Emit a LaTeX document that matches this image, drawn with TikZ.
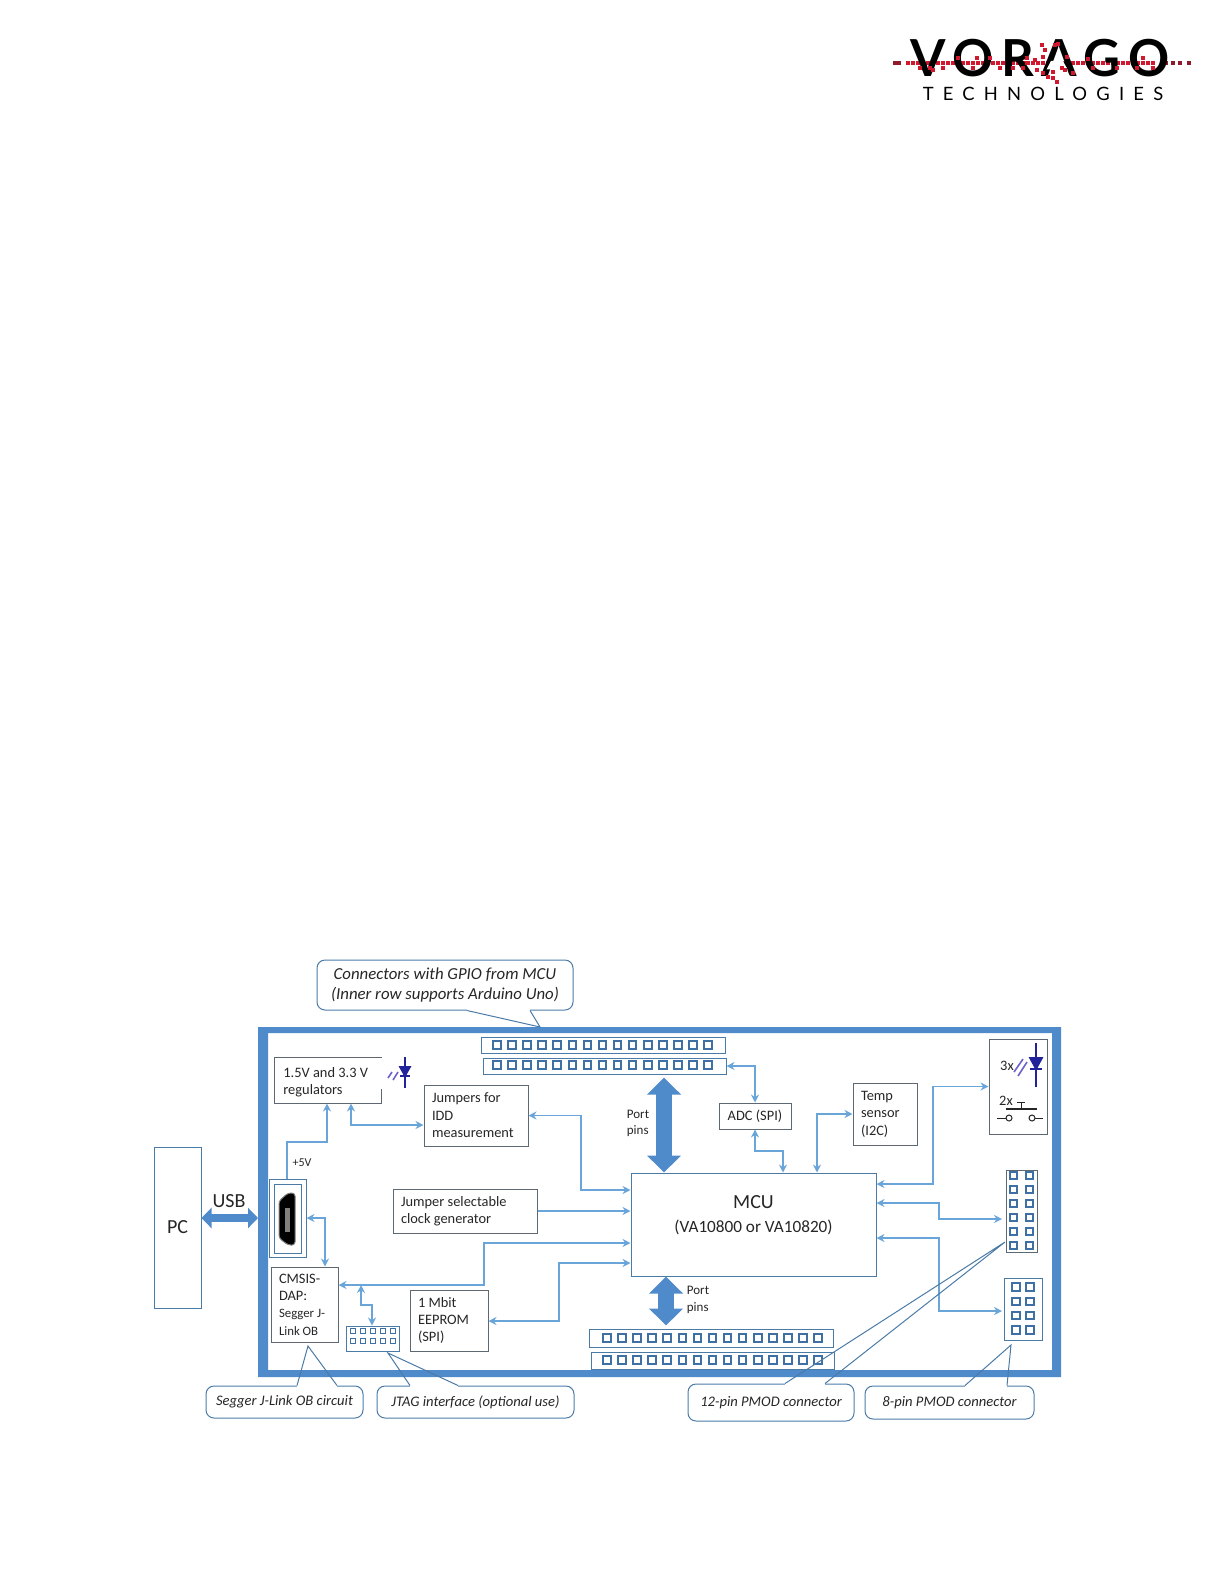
\documentclass[tikz,border=0pt]{standalone}
\usepackage{xcolor}
\usepackage{fontspec}
\usepackage{tikz}
\usetikzlibrary{arrows.meta}
\setmainfont{Carlito}
\newfontfamily\logofont[LetterSpace=15]{Lato}
\newfontfamily\logosubfont[LetterSpace=50]{Lato}
\definecolor{boardblue}{HTML}{4F8ACB}
\definecolor{wireblue}{HTML}{6AA5DA}
\definecolor{edgeblue}{HTML}{4A7BA7}
\definecolor{pinblue}{HTML}{3F70A3}
\definecolor{edgegray}{HTML}{5E6873}
\definecolor{textgray}{HTML}{262626}
\definecolor{ledblue}{HTML}{22229A}
\definecolor{rayblue}{HTML}{6A62C8}
\definecolor{logored}{HTML}{D0182F}
\definecolor{logodark}{HTML}{8E1B2B}
\tikzset{
  boxtext/.style={font=\fontsize{7.2}{8.7}\selectfont,text=textgray},
  blockbox/.style 2 args={boxtext,draw=edgegray,line width=0.5pt,align=flush left,inner xsep=4pt,inner ysep=0pt,text width=#1,minimum height=#2},
  blankbox/.style 2 args={draw=#1,line width=0.5pt,inner sep=0pt,minimum width=#2},
  calloutbox/.style={draw=edgeblue,line width=0.5pt,rounded corners=4pt,align=flush center,inner sep=0pt,font=\fontsize{7.3}{10}\selectfont\itshape,text=textgray},
  calloutline/.style={draw=edgeblue,line width=0.5pt},
  wire/.style={draw=wireblue,line width=0.7pt,{Stealth[length=4pt,width=4pt]}-{Stealth[length=4pt,width=4pt]}},
  wireto/.style={draw=wireblue,line width=0.7pt,-{Stealth[length=4pt,width=4pt]}},
  usbarrow/.style={draw=boardblue,line width=3.6pt,{Triangle[length=5pt,width=10pt]}-{Triangle[length=5pt,width=10pt]}},
  portarrow/.style={draw=boardblue,line width=8pt,{Triangle[length=8.5pt,width=16.5pt]}-{Triangle[length=8.5pt,width=16.5pt]}},
  pinbox/.style={draw=pinblue,line width=1pt},
  ledline/.style={draw=ledblue,line width=0.8pt},
  rayline/.style={draw=rayblue,line width=0.8pt},
  switchline/.style={draw=textgray,line width=0.5pt},
}
\begin{document}
\begin{tikzpicture}[x=0.5pt,y=-0.5pt]
\useasboundingbox (0,0) rectangle (1224,1584);
% logo
\foreach \a in {85,100,...,830} \fill[logored] ({880+\a/3-1.9},61.1) rectangle ++(3.8,3.8);
\foreach \a in {45,58,858,878,900,928} \fill[logodark] ({880+\a/3-1.9},61.1) rectangle ++(3.8,3.8);
\node[anchor=base,font=\logofont\bfseries\fontsize{25.5}{25.5}\selectfont] (vorago) at (1040,76) {VORAGO};
\fill[white] (1051,61) -- (1063,61) -- (1067.5,69.5) -- (1046.5,69.5) -- cycle;
\foreach \a/\b in {485/75,535/72,495/90,525/75,560/110,490/110,440/115,465/120,235/115,290/115,330/115,625/118,790/115,520/175,530/187,505/170,520/155,580/160,555/150,120/145,160/150,190/145,280/145,360/145,400/145,430/145,470/150,490/160,545/145,640/145,710/145,770/145,820/145,150/145,440/130}
  \fill[logored] ({880+\a/3-1.9},{20+\b/3-1.9}) rectangle ++(3.8,3.8);
\node[anchor=base,font=\logosubfont\fontsize{9.2}{9.2}\selectfont] (technologies) at (1043,100.5) {TECHNOLOGIES};
% board
\fill[boardblue,even odd rule] (258,1027) rectangle (1061,1377) (268,1033) rectangle (1052,1370);
% pc and usb
\node[draw=edgeblue,line width=0.5pt,minimum width=23.5pt,minimum height=80.5pt,inner sep=0pt,font=\fontsize{10}{12}\selectfont,text=textgray] (pc) at (177.5,1227.5) {PC};
\node[font=\fontsize{10}{12}\selectfont,text=textgray,inner sep=0pt] (usblabel) at (229,1201) {USB};
\node[blankbox={edgeblue}{18.5pt},minimum height=39pt] (usbsocket) at (287.5,1218) {};
\node[blankbox={edgeblue}{13.5pt},minimum height=34.5pt] (usbinner) at (287.5,1218.5) {};
\filldraw[fill=black,draw=gray,line width=0.5pt,rounded corners=1.5pt] (279,1201) -- (288,1193) -- (295,1193) -- (295,1245) -- (288,1245) -- (279,1238) -- cycle;
\fill[gray] (285,1208) rectangle (290,1232);
\draw[usbarrow] (pc.east |- 201,1218) -- (258,1218);
% blocks
\node[blockbox={45pt}{22.5pt},draw=none] (regs) at (328,1080.5) {};
\node[boxtext,align=flush left,inner sep=0pt,anchor=west] (regslabel) at (283,1082.5) {1.5V and 3.3 V\\regulators};
\draw[draw=edgegray,line width=0.5pt] (regs.east |- 274,1089) -- (regs.south east) -- (regs.south west) -- (regs.north west) -- (regs.north east);
\node[blockbox={44pt}{30.5pt}] (jumpers) at (476,1115.5) {Jumpers for\\IDD\\measurement};
\node[blockbox={64pt}{22pt}] (clockgen) at (465,1211) {Jumper selectable\\clock generator};
\node[draw=edgeblue,line width=0.5pt,minimum width=122.5pt,minimum height=51.5pt,inner sep=0pt] (mcu) at (753.5,1224.5) {};
\node[align=flush center,inner sep=0pt,text=textgray] (mculabel) at (753.5,1215) {{\fontsize{10}{11}\selectfont MCU}\\{\fontsize{8.6}{10}\selectfont (VA10800 or VA10820)}};
\node[blockbox={25.5pt}{37.5pt}] (cmsis) at (304.5,1304.5) {CMSIS-\\DAP:\\{\fontsize{6.4}{8.5}\selectfont Segger J-}\\{\fontsize{6.4}{8.5}\selectfont Link OB}};
\node[blockbox={31pt}{30.5pt}] (eeprom) at (449,1320.5) {1 Mbit\\EEPROM\\(SPI)};
\node[blockbox={34pt}{13pt},align=flush center,inner xsep=1pt] (adc) at (755,1116) {ADC (SPI)};
\node[blockbox={24pt}{31pt}] (tempsensor) at (885,1114) {Temp\\sensor\\(I2C)};
\node[blankbox={edgegray}{29pt},minimum height=47.5pt] (ledswitch) at (1018,1086.5) {};
% connectors
\node[blankbox={edgeblue}{122pt},minimum height=8pt] (rowa) at (603,1045) {};
\node[blankbox={edgeblue}{121.5pt},minimum height=8pt] (rowb) at (604.5,1066) {};
\node[blankbox={edgeblue}{122pt},minimum height=9pt] (rowc) at (711,1338) {};
\node[blankbox={edgeblue}{121.5pt},minimum height=8.5pt] (rowd) at (712.5,1360.5) {};
\node[blankbox={edgegray}{15.5pt},minimum height=41pt] (pmodtwelve) at (1021.5,1211) {};
\node[blankbox={edgeblue}{19pt},minimum height=31pt] (pmodeight) at (1023,1309) {};
\node[blankbox={edgeblue}{26.5pt},minimum height=12.5pt] (jtagpins) at (372.5,1338.5) {};
\foreach \px/\py in {497/1045,497/1065,607/1338,607/1360}
  \foreach \i in {0,...,14}
    \draw[pinbox] ({\px+15.07*\i-3.8},{\py-3.8}) rectangle ++(7.6,7.6);
\foreach \py in {1175,1189,...,1245}
  \foreach \px in {1013,1029}
    \draw[pinbox] ({\px-3.5},{\py-3.5}) rectangle ++(7,7);
\foreach \py in {1287,1301.3,1315.6,1330}
  \foreach \px in {1016,1030}
    \draw[pinbox] ({\px-3.7},{\py-3.7}) rectangle ++(7.4,7.4);
\foreach \px in {353,363,373,383,393}
  \foreach \py in {1331,1341}
    \draw[pinbox,line width=0.8pt] ({\px-2.6},{\py-2.6}) rectangle ++(5.2,5.2);
% led and switch marks
\draw[ledline] (405,1057) -- (405,1088);
\filldraw[ledline,fill=ledblue] (400,1067) -- (410,1067) -- (405,1076) -- cycle;
\draw[ledline] (400,1076) -- (410,1076);
\draw[rayline] (388,1078) -- (392,1072);
\draw[rayline] (393,1080) -- (398,1072);
\draw[ledline] (1036,1043) -- (1036,1087);
\filldraw[ledline,fill=ledblue] (1030,1058) -- (1042,1058) -- (1036,1069) -- cycle;
\draw[ledline] (1030,1069) -- (1042,1069);
\draw[rayline] (1014,1072) -- (1023,1059);
\draw[rayline] (1018,1076) -- (1027,1062);
\node[boxtext,inner sep=0pt] (ledcount) at (1007,1066) {3x};
\node[boxtext,inner sep=0pt] (switchcount) at (1006,1101) {2x};
\draw[switchline,line width=0.8pt] (1006,1109) -- (1037,1109);
\draw[switchline] (1021,1109) -- (1021,1102);
\draw[switchline] (1017,1102) -- (1025,1102);
\draw[switchline] (997,1118) -- (1006,1118);
\draw[switchline] (1009,1118) circle (3);
\draw[switchline] (1032,1118) circle (3);
\draw[switchline] (1035,1118) -- (1043,1118);
% wires
\node[boxtext,inner sep=0pt,font=\fontsize{6}{7}\selectfont] (fivev) at (302,1163) {+5V};
\draw[wireto] (usbsocket.north -| 287,1179) |- (327,1142) -- (regs.south -| 327,1142);
\draw[wire] (regs.south -| 351,1104) |- (jumpers.west |- 351,1125);
\draw[wire] (jumpers.east) -| (581,1190) -- (mcu.west |- 581,1190);
\draw[wireto] (clockgen.east) -- (mcu.west |- clockgen.east);
\draw[wire] (cmsis.east |- 338,1285) -- (484,1285) |- (mcu.west |- 484,1243);
\coordinate (jtagtap) at (361,1285);
\draw[wire] (jtagtap) |- (372,1305) -- (jtagpins.north -| 372,1305);
\draw[wire] (eeprom.east |- 488,1321) -- (559,1321) |- (mcu.west |- 559,1263);
\draw[wire] (usbsocket.east |- 306,1218) -| (cmsis.north -| 325,1267);
\draw[wire] (rowb.east) -| (adc.north);
\draw[wire] (adc.south) |- (783,1151) -- (mcu.north -| 783,1151);
\draw[wire] (mcu.north -| 817,1100) |- (tempsensor.west);
\draw[wire] (mcu.east |- 876,1184) -| (933,1086.5) -- (ledswitch.west);
\draw[wire] (mcu.east |- 876,1203) -| (939,1219) -- (1002,1219);
\draw[wire] (mcu.east |- 876,1238) -| (939,1311) -- (1002,1311);
\draw[portarrow,shorten <=1.5pt] (rowb.south -| 664,1077) -- (mcu.north -| 664,1077);
\draw[portarrow,shorten >=1.5pt] (mcu.south -| 666,1276) -- (rowc.north -| 666,1276);
\node[boxtext,align=flush left,inner sep=0pt,font=\fontsize{6.5}{8.2}\selectfont] (portlabela) at (638,1123.5) {Port\\pins};
\node[boxtext,align=flush left,inner sep=0pt,font=\fontsize{6.5}{8.2}\selectfont] (portlabelb) at (698,1300) {Port\\pins};
% callouts
\node[calloutbox,font=\fontsize{8.4}{10}\selectfont\itshape,minimum width=128pt,minimum height=25pt] (gpiocall) at (445,985) {Connectors with GPIO from MCU\\(Inner row supports Arduino Uno)};
\node[calloutbox,minimum width=78.5pt,minimum height=16pt] (seggercall) at (284.5,1402) {Segger J-Link OB circuit};
\node[calloutbox,minimum width=98.5pt,minimum height=16pt] (jtagcall) at (475.5,1402) {JTAG interface (optional use)};
\node[calloutbox,minimum width=83pt,minimum height=18.5pt] (twelvecall) at (771,1402.5) {12-pin PMOD connector};
\node[calloutbox,minimum width=84.5pt,minimum height=16.5pt] (eightcall) at (949.5,1402.5) {8-pin PMOD connector};
\coordinate (gpiotip) at (540,1027);
\coordinate (seggertip) at (308,1346);
\coordinate (jtagtip) at (388,1353);
\coordinate (twelvetip) at (1005,1242);
\coordinate (eighttip) at (1011,1345);
\draw[white,line width=1pt] (467,1010) -- (530,1010);
\draw[calloutline] (gpiocall.south -| 467,1010) -- (gpiotip) -- (gpiocall.south -| 530,1010);
\draw[white,line width=1pt] (297,1386) -- (337,1386);
\draw[calloutline] (seggercall.north -| 297,1386) -- (seggertip) -- (seggercall.north -| 337,1386);
\draw[white,line width=1pt] (410,1386) -- (458,1386);
\draw[calloutline] (jtagcall.north -| 410,1386) -- (jtagtip) -- (jtagcall.north -| 458,1386);
\draw[white,line width=1pt] (785,1384) -- (825,1384);
\draw[calloutline] (twelvecall.north -| 785,1384) -- (twelvetip) -- (twelvecall.north -| 825,1384);
\draw[white,line width=1pt] (965,1386) -- (1007,1386);
\draw[calloutline] (eightcall.north -| 965,1386) -- (eighttip) -- (eightcall.north -| 1007,1386);
\end{tikzpicture}
\end{document}
